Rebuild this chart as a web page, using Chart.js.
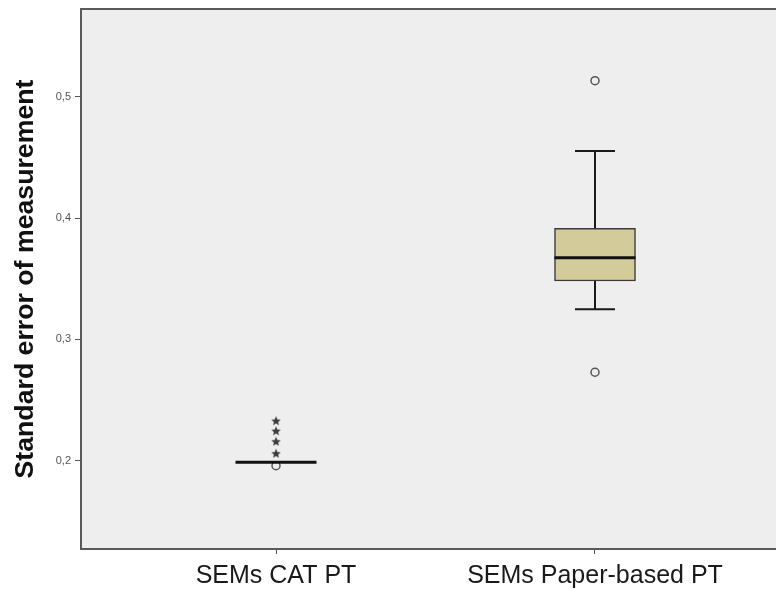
<!DOCTYPE html>
<html>
<head>
<meta charset="utf-8">
<script src="https://cdn.jsdelivr.net/npm/chart.js@4.4.0/dist/chart.umd.min.js"></script>
<style>
  html, body { margin: 0; padding: 0; background: #fff; overflow: hidden; }
  #wrap { width: 800px; height: 590px; }
</style>
</head>
<body>
<div id="wrap"><canvas id="boxChart" width="800" height="590"></canvas></div>
<script>
const categories = ['SEMs CAT PT', 'SEMs Paper-based PT'];
const positions = [1, 2];
const q1 = [0.1987, 0.3481];
const medians = [0.1987, 0.3673];
const q3 = [0.1987, 0.3915];
const whiskerLow = [0.1987, 0.3248];
const whiskerHigh = [0.1987, 0.4553];
const outliers = [[0.1959], [0.5132, 0.2729]];
const extremes = [[0.2061, 0.2160, 0.2247, 0.2330], []];
const yTicks = [0.2, 0.3, 0.4, 0.5];

const FONT = "Arial, 'Liberation Sans', sans-serif";
const BOX_WIDTH = 81;
const CAP_WIDTH = 40;

function pointsFrom(groups) {
    const pts = [];
    groups.forEach((vals, i) => {
        vals.forEach(v => pts.push({ x: positions[i], y: v }));
    });
    return pts;
}

// small filled 5-point star used as point style for extremes
function makeStar(size, color) {
    const c = document.createElement('canvas');
    c.width = size;
    c.height = size;
    const g = c.getContext('2d');
    const r = size / 2, ri = r * 0.45;
    g.beginPath();
    for (let k = 0; k < 10; k++) {
        const rad = k % 2 === 0 ? r : ri;
        const a = -Math.PI / 2 + k * Math.PI / 5;
        const px = r + rad * Math.cos(a), py = r + 0.5 + rad * Math.sin(a);
        if (k === 0) g.moveTo(px, py); else g.lineTo(px, py);
    }
    g.closePath();
    g.fillStyle = color;
    g.fill();
    return c;
}

// plot background + frame
const frame = {
    id: 'frame',
    beforeDraw(chart) {
        const { ctx, chartArea: a } = chart;
        ctx.save();
        ctx.fillStyle = '#ffffff';
        ctx.fillRect(0, 0, chart.width, chart.height);
        ctx.fillStyle = '#eeeeee';
        ctx.fillRect(a.left, a.top, a.right - a.left, a.bottom - a.top);
        ctx.restore();
    },
    beforeDatasetsDraw(chart) {
        const { ctx, chartArea: a } = chart;
        ctx.save();
        ctx.strokeStyle = '#5a5a5a';
        ctx.lineWidth = 2;
        ctx.strokeRect(a.left, a.top, a.right - a.left, a.bottom - a.top);
        ctx.restore();
    }
};

// whiskers and median lines
const boxParts = {
    id: 'boxParts',
    afterDatasetsDraw(chart) {
        const { ctx, scales: { x, y } } = chart;
        ctx.save();
        positions.forEach((p, i) => {
            const cx = x.getPixelForValue(p);
            ctx.strokeStyle = '#1a1a1a';
            ctx.lineWidth = 2;
            ctx.beginPath();
            if (whiskerHigh[i] > q3[i]) {
                ctx.moveTo(cx, y.getPixelForValue(q3[i]));
                ctx.lineTo(cx, y.getPixelForValue(whiskerHigh[i]));
                ctx.moveTo(cx - CAP_WIDTH / 2, y.getPixelForValue(whiskerHigh[i]));
                ctx.lineTo(cx + CAP_WIDTH / 2, y.getPixelForValue(whiskerHigh[i]));
            }
            if (whiskerLow[i] < q1[i]) {
                ctx.moveTo(cx, y.getPixelForValue(q1[i]));
                ctx.lineTo(cx, y.getPixelForValue(whiskerLow[i]));
                ctx.moveTo(cx - CAP_WIDTH / 2, y.getPixelForValue(whiskerLow[i]));
                ctx.lineTo(cx + CAP_WIDTH / 2, y.getPixelForValue(whiskerLow[i]));
            }
            ctx.stroke();
            ctx.lineWidth = 3;
            ctx.strokeStyle = '#111';
            ctx.beginPath();
            const my = y.getPixelForValue(medians[i]);
            ctx.moveTo(cx - BOX_WIDTH / 2, my);
            ctx.lineTo(cx + BOX_WIDTH / 2, my);
            ctx.stroke();
        });
        ctx.restore();
    }
};

const ctx = document.getElementById('boxChart').getContext('2d');

new Chart(ctx, {
    type: 'bar',
    data: {
        datasets: [
            {
                type: 'scatter',
                label: 'Outliers',
                data: pointsFrom(outliers),
                pointStyle: 'circle',
                pointRadius: 4,
                backgroundColor: 'rgba(0,0,0,0)',
                borderColor: '#555',
                borderWidth: 1.5
            },
            {
                type: 'scatter',
                label: 'Extremes',
                data: pointsFrom(extremes),
                pointStyle: makeStar(10, '#3c3c3c'),
                pointRadius: 5
            },
            {
                label: 'Box',
                data: positions.map((p, i) => ({ x: p, y: [q1[i], q3[i]] })),
                backgroundColor: '#d3cc9a',
                borderColor: '#3a3a3a',
                borderWidth: 1.5,
                borderSkipped: false,
                barThickness: BOX_WIDTH
            }
        ]
    },
    options: {
        responsive: false,
        animation: false,
        events: [],
        layout: { padding: { top: 9, right: 10, left: 0, bottom: 0 } },
        plugins: {
            legend: { display: false },
            tooltip: { enabled: false }
        },
        scales: {
            x: {
                type: 'linear',
                offset: false,
                min: 0.3887,
                max: 2.6113,
                afterBuildTicks: scale => { scale.ticks = positions.map(v => ({ value: v })); },
                afterFit: scale => { scale.height = 41; },
                border: { display: false },
                grid: { offset: false, drawOnChartArea: false, drawTicks: true, tickLength: 5, color: '#555' },
                ticks: {
                    padding: 7,
                    color: '#1a1a1a',
                    font: { family: FONT, size: 25 },
                    maxRotation: 0,
                    callback: v => categories[positions.indexOf(v)] || ''
                }
            },
            y: {
                min: 0.1272,
                max: 0.5723,
                afterBuildTicks: scale => { scale.ticks = yTicks.map(v => ({ value: v })); },
                afterFit: scale => {
                    scale.width = 81;
                    scale.paddingTop = 0;
                    scale.paddingBottom = 0;
                },
                border: { display: false },
                grid: { drawOnChartArea: false, drawTicks: true, tickLength: 6, color: '#555' },
                ticks: {
                    padding: 4,
                    color: '#555',
                    font: { family: FONT, size: 11 },
                    callback: v => v.toFixed(1).replace('.', ',')
                },
                title: {
                    display: true,
                    text: 'Standard error of measurement',
                    color: '#111',
                    font: { family: FONT, size: 26.7, weight: 'bold' },
                    padding: { top: 10, bottom: 0 }
                }
            }
        }
    },
    plugins: [frame, boxParts]
});
</script>
</body>
</html>
